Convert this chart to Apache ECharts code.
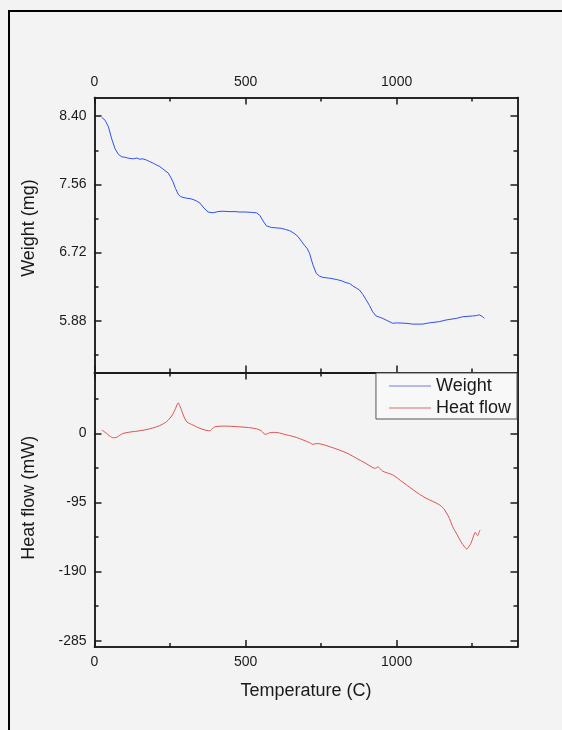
<!DOCTYPE html>
<html>
<head>
<meta charset="utf-8">
<script src="https://cdn.jsdelivr.net/npm/echarts@6/dist/echarts.min.js"></script>
<style>
html, body { margin: 0; padding: 0; background: #f3f3f3; }
#chart { width: 562px; height: 730px; }
</style>
</head>
<body>
<div id="chart"></div>
<script>
// values
var tempW = [24, 35, 46, 57, 68, 79, 90, 100, 110, 117, 130, 140, 150, 160, 172, 183, 195, 205, 216, 230,
  244, 252, 260, 268, 277, 285, 293, 305, 316, 326, 338, 349, 362, 376, 392, 408, 425, 445, 465, 481,
  500, 520, 536, 547, 558, 569, 585, 600, 618, 632, 646, 660, 673, 685, 695, 704, 712, 718, 723, 734,
  745, 756, 778, 800, 816, 833, 844, 855, 866, 877, 888, 899, 910, 921, 932, 943, 954, 965, 987, 1000,
  1031, 1053, 1086, 1108, 1141, 1163, 1197, 1218, 1251, 1265, 1273, 1285, 1290];
var weight = [8.385, 8.35, 8.27, 8.12, 8.00, 7.93, 7.90, 7.895, 7.885, 7.88, 7.875, 7.885, 7.87, 7.875, 7.86, 7.84, 7.82, 7.80, 7.78, 7.74,
  7.70, 7.65, 7.59, 7.51, 7.44, 7.41, 7.40, 7.39, 7.385, 7.375, 7.355, 7.33, 7.27, 7.22, 7.21, 7.225, 7.23, 7.225, 7.225, 7.22,
  7.22, 7.215, 7.21, 7.18, 7.11, 7.05, 7.03, 7.025, 7.02, 7.005, 6.99, 6.96, 6.92, 6.86, 6.81, 6.77, 6.71, 6.63, 6.57, 6.465,
  6.43, 6.415, 6.405, 6.39, 6.375, 6.35, 6.34, 6.31, 6.285, 6.26, 6.205, 6.14, 6.07, 5.99, 5.94, 5.925, 5.91, 5.89, 5.85, 5.855,
  5.85, 5.84, 5.84, 5.855, 5.87, 5.89, 5.91, 5.93, 5.94, 5.945, 5.955, 5.93, 5.91];

var tempH = [24, 32, 40, 50, 62, 73, 84, 95, 120, 150, 180, 205, 225, 238, 250, 260, 268, 277, 283, 288,
  295, 305, 315, 326, 340, 359, 372, 382, 390, 398, 425, 450, 481, 510, 536, 552, 565, 572, 580, 596,
  613, 630, 646, 668, 690, 712, 723, 735, 750, 780, 811, 840, 866, 895, 921, 930, 938, 946, 954, 970,
  987, 1020, 1053, 1075, 1097, 1120, 1141, 1155, 1163, 1175, 1185, 1200, 1213, 1225, 1232, 1240, 1246, 1253, 1260, 1265,
  1268, 1272, 1276];
var heatFlow = [4.5, 2.5, 0, -3.5, -6, -5.5, -2.5, 0, 2, 3.6, 6, 9, 12.5, 16, 21, 27, 34, 42, 37, 32,
  24, 16, 13.5, 11.4, 8.5, 5.5, 4, 3.6, 6.5, 9, 10, 9.8, 9, 8, 6.3, 3.6, -1.4, -0.5, 0.8, 1.4,
  0.5, -1.5, -3, -5.5, -9, -12.8, -15, -14, -14.7, -18.5, -23, -28, -34, -40.5, -47, -48, -46, -49, -52, -54.5,
  -57, -67, -77, -83.5, -89, -93.5, -98, -103, -108, -117, -128, -139, -149, -156, -159, -155, -151, -143, -136, -139,
  -140.6, -137, -133];

var tempTicks = [0, 500, 1000];
var tempMinor = [250, 750, 1250];
var weightTicks = [5.88, 6.72, 7.56, 8.40];
var weightMinor = [5.46, 6.30, 7.14, 7.98];
var heatTicks = [-285, -190, -95, 0];
var heatMinor = [-237.5, -142.5, -47.5, 47.5];

var FONT = '"Liberation Sans", Arial, sans-serif';
var INK = '#1a1a1a';

function pairs(xs, ys) {
  var out = [];
  for (var i = 0; i < xs.length; i++) {
    out.push([xs[i], ys[i]]);
  }
  return out;
}

function xAx(grid, pos, ticks, len, labels, name) {
  return {
    type: 'value', gridIndex: grid, position: pos, min: 0, max: 1400,
    axisLine: { show: true, onZero: false, lineStyle: { color: INK, width: 1.5 } },
    axisTick: { inside: true, length: len, customValues: ticks, lineStyle: { color: INK, width: 1.5 } },
    axisLabel: {
      show: !!labels, customValues: labels || [], margin: 8, fontSize: 14, color: INK, fontFamily: FONT,
      formatter: function (v) { return String(v); }
    },
    splitLine: { show: false },
    name: name || '', nameLocation: 'middle', nameGap: 35,
    nameTextStyle: { fontSize: 18, color: INK, fontFamily: FONT }
  };
}

function yAx(grid, pos, lo, hi, ticks, len, labels, digits, name, shift) {
  return {
    type: 'value', gridIndex: grid, position: pos, min: lo, max: hi,
    axisLine: { show: true, onZero: false, lineStyle: { color: INK, width: 1.5 } },
    axisTick: { inside: true, length: len, customValues: ticks, lineStyle: { color: INK, width: 1.5 } },
    axisLabel: {
      show: !!labels, customValues: labels || [], margin: 8, fontSize: 14, color: INK, fontFamily: FONT,
      formatter: function (v) { return v.toFixed(digits); }
    },
    splitLine: { show: false },
    name: name || '', nameLocation: 'middle', nameGap: 56,
    nameTextStyle: { fontSize: 18, color: INK, fontFamily: FONT, padding: [0, 0, 0, shift || 0] }
  };
}

var chartDom = document.getElementById('chart');
var myChart = echarts.init(chartDom);

var option = {
  backgroundColor: '#f3f3f3',
  animation: false,
  grid: [
    { left: 94.5, top: 97.5, width: 423, height: 275 },
    { left: 94.5, top: 372.5, width: 423, height: 274.5 }
  ],
  xAxis: [
    xAx(0, 'bottom', tempTicks, 7, null),
    xAx(0, 'top', tempTicks, 7, tempTicks),
    xAx(0, 'bottom', tempMinor, 4, null),
    xAx(0, 'top', tempMinor, 4, null),
    xAx(1, 'bottom', tempTicks, 7, tempTicks, 'Temperature (C)'),
    xAx(1, 'top', tempTicks, 7, null),
    xAx(1, 'bottom', tempMinor, 4, null),
    xAx(1, 'top', tempMinor, 4, null)
  ],
  yAxis: [
    yAx(0, 'left', 5.244, 8.63, weightTicks, 7, weightTicks, 2, 'Weight (mg)', 14),
    yAx(0, 'right', 5.244, 8.63, weightTicks, 7, null, 2),
    yAx(0, 'left', 5.244, 8.63, weightMinor, 4, null, 2),
    yAx(0, 'right', 5.244, 8.63, weightMinor, 4, null, 2),
    yAx(1, 'left', -293.6, 83.7, heatTicks, 7, heatTicks, 0, 'Heat flow (mW)', 24),
    yAx(1, 'right', -293.6, 83.7, heatTicks, 7, null, 0),
    yAx(1, 'left', -293.6, 83.7, heatMinor, 4, null, 0),
    yAx(1, 'right', -293.6, 83.7, heatMinor, 4, null, 0)
  ],
  legend: {
    orient: 'vertical', right: 45, top: 373,
    icon: 'rect', itemWidth: 42, itemHeight: 1.2, itemGap: 4,
    padding: [4, 6, 2, 13],
    backgroundColor: '#f8f8f8', borderColor: '#555', borderWidth: 1, borderRadius: 0,
    textStyle: { fontSize: 18, color: INK, fontFamily: FONT },
    data: ['Weight', 'Heat flow']
  },
  graphic: [
    {
      type: 'rect', silent: true, z: 100,
      shape: { x: 9, y: 11, width: 600, height: 760 },
      style: { fill: 'none', stroke: '#000', lineWidth: 2 }
    }
  ],
  series: [
    {
      name: 'Weight', type: 'line', xAxisIndex: 0, yAxisIndex: 0,
      symbol: 'none', lineStyle: { color: '#2f4ff0', width: 1 }, itemStyle: { color: '#6a7cf2' },
      data: pairs(tempW, weight)
    },
    {
      name: 'Heat flow', type: 'line', xAxisIndex: 4, yAxisIndex: 4,
      symbol: 'none', smooth: 0.3, lineStyle: { color: '#df5450', width: 1 }, itemStyle: { color: '#e06a66' },
      data: pairs(tempH, heatFlow)
    }
  ]
};

option && myChart.setOption(option);
</script>
</body>
</html>
